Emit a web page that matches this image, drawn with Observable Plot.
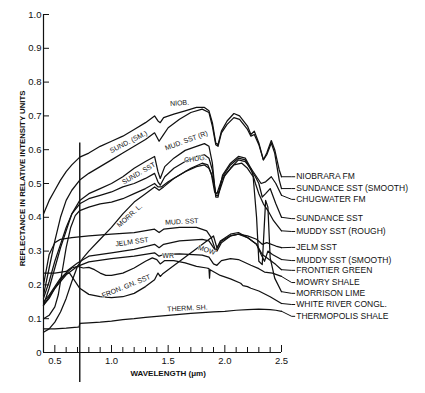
<!DOCTYPE html>
<html><head><meta charset="utf-8">
<script src="https://cdn.jsdelivr.net/npm/d3@7"></script>
<script src="https://cdn.jsdelivr.net/npm/@observablehq/plot@0.6"></script>
<style>
html,body{margin:0;padding:0;background:#fff;}
svg{display:block;}
g[aria-label="end-labels"] text{letter-spacing:0.9px;}
g[aria-label="x-title"] text{letter-spacing:1px;}
g[aria-label="y-title"] text{letter-spacing:0.4px;}
</style>
</head><body><div id="chart"></div>
<script>
// ---- data: reflectance (relative units) vs wavelength (µm) ----
const seriesNames = ["NIOBRARA FM","SUNDANCE SST (SMOOTH)","CHUGWATER FM","SUNDANCE SST","MUDDY SST (ROUGH)","JELM SST","MUDDY SST (SMOOTH)","FRONTIER GREEN","MOWRY SHALE","MORRISON LIME","WHITE RIVER CONGL.","THERMOPOLIS SHALE"];

const niobrara = [[0.4,0.41],[0.45,0.45],[0.5,0.48],[0.55,0.51],[0.6,0.535],[0.65,0.555],[0.72,0.578],[0.8,0.59],[0.9,0.61],[1.0,0.625],[1.1,0.64],[1.2,0.66],[1.3,0.68],[1.38,0.70],[1.41,0.685],[1.43,0.68],[1.46,0.695],[1.55,0.705],[1.65,0.715],[1.75,0.725],[1.82,0.725],[1.86,0.715],[1.89,0.68],[1.92,0.62],[1.94,0.615],[1.97,0.655],[2.02,0.685],[2.08,0.707],[2.13,0.70],[2.2,0.67],[2.23,0.645],[2.26,0.655],[2.3,0.62],[2.34,0.57],[2.37,0.59],[2.41,0.627],[2.44,0.60],[2.48,0.54],[2.5,0.52]];
const sundanceSmooth = [[0.4,0.17],[0.45,0.25],[0.5,0.33],[0.55,0.40],[0.6,0.45],[0.65,0.48],[0.72,0.51],[0.8,0.53],[0.9,0.55],[1.0,0.57],[1.1,0.59],[1.2,0.61],[1.3,0.63],[1.38,0.65],[1.42,0.625],[1.45,0.64],[1.5,0.665],[1.6,0.69],[1.7,0.71],[1.8,0.72],[1.86,0.71],[1.89,0.67],[1.92,0.615],[1.94,0.61],[1.97,0.65],[2.02,0.675],[2.08,0.695],[2.13,0.69],[2.2,0.66],[2.23,0.64],[2.26,0.645],[2.3,0.615],[2.34,0.57],[2.37,0.585],[2.41,0.62],[2.44,0.59],[2.48,0.51],[2.5,0.485]];
const chugwater = [[0.4,0.10],[0.45,0.11],[0.5,0.135],[0.53,0.17],[0.56,0.23],[0.6,0.31],[0.64,0.37],[0.68,0.405],[0.72,0.42],[0.8,0.43],[0.9,0.44],[1.0,0.445],[1.1,0.455],[1.2,0.47],[1.3,0.485],[1.38,0.50],[1.41,0.49],[1.44,0.49],[1.5,0.505],[1.6,0.525],[1.7,0.545],[1.8,0.56],[1.85,0.555],[1.88,0.53],[1.91,0.475],[1.93,0.47],[1.97,0.51],[2.05,0.545],[2.12,0.57],[2.18,0.565],[2.24,0.54],[2.28,0.52],[2.32,0.50],[2.36,0.505],[2.41,0.52],[2.45,0.50],[2.5,0.465]];
const sundance = [[0.4,0.16],[0.45,0.21],[0.5,0.27],[0.55,0.32],[0.6,0.37],[0.65,0.41],[0.72,0.44],[0.8,0.455],[0.9,0.465],[1.0,0.475],[1.1,0.49],[1.2,0.50],[1.3,0.515],[1.38,0.53],[1.41,0.505],[1.43,0.495],[1.47,0.52],[1.55,0.545],[1.65,0.565],[1.75,0.58],[1.82,0.585],[1.86,0.575],[1.89,0.54],[1.92,0.465],[1.94,0.465],[1.98,0.52],[2.05,0.555],[2.12,0.575],[2.18,0.57],[2.23,0.54],[2.27,0.52],[2.3,0.50],[2.33,0.46],[2.36,0.47],[2.4,0.485],[2.45,0.44],[2.5,0.40]];
const muddyRough = [[0.4,0.14],[0.45,0.19],[0.5,0.25],[0.55,0.31],[0.6,0.36],[0.65,0.41],[0.72,0.45],[0.8,0.47],[0.9,0.485],[1.0,0.50],[1.1,0.52],[1.2,0.545],[1.3,0.565],[1.38,0.58],[1.41,0.535],[1.43,0.515],[1.47,0.55],[1.55,0.575],[1.65,0.598],[1.75,0.61],[1.82,0.618],[1.86,0.61],[1.89,0.56],[1.92,0.46],[1.94,0.46],[1.98,0.525],[2.05,0.56],[2.12,0.58],[2.18,0.575],[2.23,0.545],[2.27,0.50],[2.3,0.47],[2.34,0.44],[2.38,0.42],[2.43,0.39],[2.5,0.36]];
const jelm = [[0.4,0.235],[0.5,0.235],[0.6,0.24],[0.7,0.265],[0.8,0.285],[1.0,0.295],[1.2,0.305],[1.38,0.32],[1.42,0.31],[1.46,0.32],[1.6,0.33],[1.8,0.335],[1.86,0.33],[1.9,0.31],[1.93,0.30],[1.97,0.325],[2.05,0.345],[2.12,0.35],[2.2,0.345],[2.28,0.335],[2.33,0.32],[2.37,0.325],[2.45,0.315],[2.5,0.31]];
const muddySmooth = [[0.4,0.20],[0.45,0.29],[0.5,0.325],[0.55,0.335],[0.65,0.34],[0.8,0.345],[1.0,0.35],[1.2,0.355],[1.38,0.365],[1.42,0.355],[1.46,0.365],[1.6,0.37],[1.75,0.37],[1.84,0.36],[1.88,0.34],[1.92,0.30],[1.96,0.33],[2.05,0.35],[2.12,0.355],[2.2,0.34],[2.28,0.32],[2.32,0.29],[2.35,0.27],[2.38,0.30],[2.42,0.29],[2.5,0.275]];
const frontierGreen = [[0.4,0.15],[0.45,0.17],[0.5,0.195],[0.55,0.22],[0.6,0.235],[0.63,0.235],[0.67,0.215],[0.72,0.19],[0.8,0.172],[0.9,0.165],[1.0,0.162],[1.1,0.165],[1.2,0.175],[1.3,0.195],[1.38,0.215],[1.41,0.235],[1.43,0.225],[1.45,0.232],[1.9,0.345],[1.93,0.31],[1.97,0.33],[2.05,0.345],[2.12,0.35],[2.2,0.34],[2.28,0.32],[2.33,0.29],[2.37,0.28],[2.45,0.26],[2.5,0.245]];
const mowryShale = [[0.4,0.14],[0.5,0.19],[0.6,0.23],[0.7,0.255],[0.8,0.268],[1.0,0.278],[1.2,0.285],[1.38,0.295],[1.42,0.285],[1.46,0.29],[1.6,0.292],[1.8,0.288],[1.86,0.282],[1.9,0.262],[1.93,0.258],[1.97,0.272],[2.05,0.278],[2.12,0.275],[2.23,0.258],[2.3,0.248],[2.35,0.238],[2.42,0.235],[2.5,0.225]];
const morrisonLime = [[0.4,0.06],[0.45,0.07],[0.5,0.09],[0.55,0.12],[0.6,0.16],[0.65,0.21],[0.7,0.255],[0.75,0.28],[0.8,0.30],[0.9,0.335],[1.0,0.37],[1.1,0.41],[1.2,0.445],[1.3,0.47],[1.38,0.49],[1.42,0.48],[1.46,0.49],[1.55,0.515],[1.65,0.535],[1.75,0.55],[1.82,0.555],[1.86,0.545],[1.89,0.52],[1.92,0.47],[1.95,0.475],[2.0,0.525],[2.08,0.555],[2.15,0.56],[2.2,0.545],[2.25,0.52],[2.28,0.40],[2.3,0.27],[2.33,0.26],[2.36,0.45],[2.38,0.43],[2.4,0.28],[2.44,0.22],[2.5,0.18]];
const whiteRiver = [[0.4,0.14],[0.45,0.16],[0.5,0.19],[0.55,0.215],[0.6,0.235],[0.65,0.25],[0.7,0.255],[0.75,0.25],[0.8,0.252],[0.85,0.245],[0.9,0.235],[0.95,0.228],[1.0,0.228],[1.1,0.235],[1.2,0.25],[1.3,0.27],[1.36,0.28],[1.4,0.275],[1.43,0.262],[1.47,0.272],[1.55,0.272],[1.65,0.265],[1.75,0.255],[1.84,0.25],[1.86,0.248],[1.865,0.22],[1.87,0.245],[1.96,0.228],[2.05,0.218],[2.14,0.205],[2.16,0.198],[2.2,0.195],[2.23,0.19],[2.3,0.182],[2.4,0.165],[2.5,0.145]];
const thermopolis = [[0.4,0.07],[0.5,0.07],[0.6,0.072],[0.7,0.075],[0.715,0.076],[0.72,0.086],[0.8,0.088],[0.9,0.09],[1.0,0.093],[1.1,0.097],[1.2,0.1],[1.3,0.104],[1.4,0.107],[1.5,0.11],[1.6,0.113],[1.7,0.116],[1.8,0.118],[1.9,0.12],[2.0,0.122],[2.1,0.125],[2.2,0.127],[2.3,0.128],[2.4,0.127],[2.45,0.125],[2.5,0.122]];

const seriesValues = [niobrara, sundanceSmooth, chugwater, sundance, muddyRough, jelm, muddySmooth, frontierGreen, mowryShale, morrisonLime, whiteRiver, thermopolis];
// reflectance level at which each right-hand label sits
const endLabelLevels = [0.52, 0.485, 0.453, 0.396, 0.358, 0.311, 0.272, 0.243, 0.207, 0.175, 0.142, 0.107];

// in-plot curve annotations
const annotations = [
  {text: "NIOB.", x: 1.60, y: 0.738, rotate: -4},
  {text: "SUND. (SM.)", x: 1.15, y: 0.623, rotate: -27},
  {text: "MUD. SST (R)", x: 1.66, y: 0.627, rotate: -20},
  {text: "CHUG.", x: 1.74, y: 0.573, rotate: -8},
  {text: "SUND. SST", x: 1.24, y: 0.53, rotate: -30},
  {text: "MORR. L.", x: 1.16, y: 0.405, rotate: -42},
  {text: "MUD. SST", x: 1.62, y: 0.387, rotate: -3},
  {text: "JELM SST", x: 1.18, y: 0.327, rotate: -8},
  {text: "WR", x: 1.50, y: 0.286, rotate: 0},
  {text: "MOW", x: 1.84, y: 0.303, rotate: 18},
  {text: "FRON. GN. SST", x: 1.13, y: 0.196, rotate: -22},
  {text: "THERM. SH.", x: 1.67, y: 0.131, rotate: -3}
];

const filterWavelength = [0.72];
const xMinorTicks = [0.4,0.6,0.7,0.8,0.9,1.1,1.2,1.3,1.4,1.6,1.7,1.8,1.9,2.1,2.2,2.3,2.4];
const xMajorTicks = [0.5,1.0,1.5,2.0,2.5];
const xTickLabels = ["0.5","1.0","1.5","2.0","2.5"];
const yTicks = [0,0.1,0.2,0.3,0.4,0.5,0.6,0.7,0.8,0.9,1.0];
const yTickLabels = ["0","0.1","0.2","0.3","0.4","0.5","0.6","0.7","0.8","0.9","1.0"];

// ---- build tables ----
const rows = [];
seriesValues.forEach((s, i) => s.forEach(([w, r]) => rows.push({series: seriesNames[i], w, r})));
const leaders = [];
seriesValues.forEach((s, i) => {
  const last = s[s.length - 1];
  leaders.push({series: seriesNames[i], w: last[0], r: last[1]});
  leaders.push({series: seriesNames[i], w: 2.59, r: endLabelLevels[i]});
  leaders.push({series: seriesNames[i], w: 2.617, r: endLabelLevels[i]});
});
const endLabels = seriesNames.map((n, i) => ({text: n, r: endLabelLevels[i]}));

const pxX = 238 / 2.1, pxY = 338;
const font = "'Liberation Sans', Arial, Helvetica, sans-serif";

const chart = Plot.plot({
  width: 425, height: 393,
  marginLeft: 43, marginRight: 144, marginTop: 14, marginBottom: 41,
  x: {domain: [0.4, 2.5], axis: null},
  y: {domain: [0, 1], axis: null},
  style: {background: "#fff", fontFamily: font, color: "#111"},
  marks: [
    // axes
    Plot.ruleX([0.4], {y1: 0, y2: 1, stroke: "#111", strokeWidth: 1.2}),
    Plot.ruleY([0], {x1: 0.4, x2: 2.5, stroke: "#111", strokeWidth: 1.2}),
    Plot.ruleY(yTicks, {y: d => d, x1: 0.4, x2: 0.4 + 6 / pxX, stroke: "#111", strokeWidth: 1}),
    Plot.ruleX(xMinorTicks, {x: d => d, y1: 0, y2: 5 / pxY, stroke: "#111", strokeWidth: 1}),
    Plot.ruleX(xMajorTicks, {x: d => d, y1: 0, y2: 7 / pxY, stroke: "#111", strokeWidth: 1}),
    Plot.text(yTicks, {x: 0.4, y: d => d, text: (d, i) => yTickLabels[i], textAnchor: "end", dx: -2, fontSize: 9.5, fill: "#111"}),
    Plot.text(xMajorTicks, {x: d => d, y: 0, text: (d, i) => xTickLabels[i], dy: 8, fontSize: 9.5, fill: "#111"}),
    // filter boundary line
    Plot.ruleX(filterWavelength, {x: d => d, y1: -30 / pxY, y2: 0.62, stroke: "#111", strokeWidth: 1.4}),
    // spectra
    Plot.line(rows, {x: "w", y: "r", z: "series", stroke: "#111", strokeWidth: 1.25, strokeLinejoin: "round"}),
    // leaders & end labels
    Plot.line(leaders, {x: "w", y: "r", z: "series", stroke: "#111", strokeWidth: 1}),
    Plot.text(endLabels, {x: 2.63, y: "r", text: "text", textAnchor: "start", fontSize: 8.5, fill: "#111", ariaLabel: "end-labels"}),
    // annotations
    Plot.text(annotations, {x: "x", y: "y", text: "text", rotate: "rotate", fontSize: 7, fill: "#111", stroke: "#fff", strokeWidth: 1, paintOrder: "stroke"}),
    // axis titles
    Plot.text(["WAVELENGTH (\u03bcm)"], {x: 1.5, y: 0, dy: 21, text: d => d, fontSize: 8, fontWeight: "bold", fill: "#111", ariaLabel: "x-title"}),
    Plot.text(["REFLECTANCE IN RELATIVE INTENSITY UNITS"], {x: 0.4, y: 0.515, dx: -21, rotate: -90, text: d => d, fontSize: 7.8, fontWeight: "bold", fill: "#111", ariaLabel: "y-title"})
  ]
});
document.getElementById("chart").appendChild(chart);
</script>
</body></html>
